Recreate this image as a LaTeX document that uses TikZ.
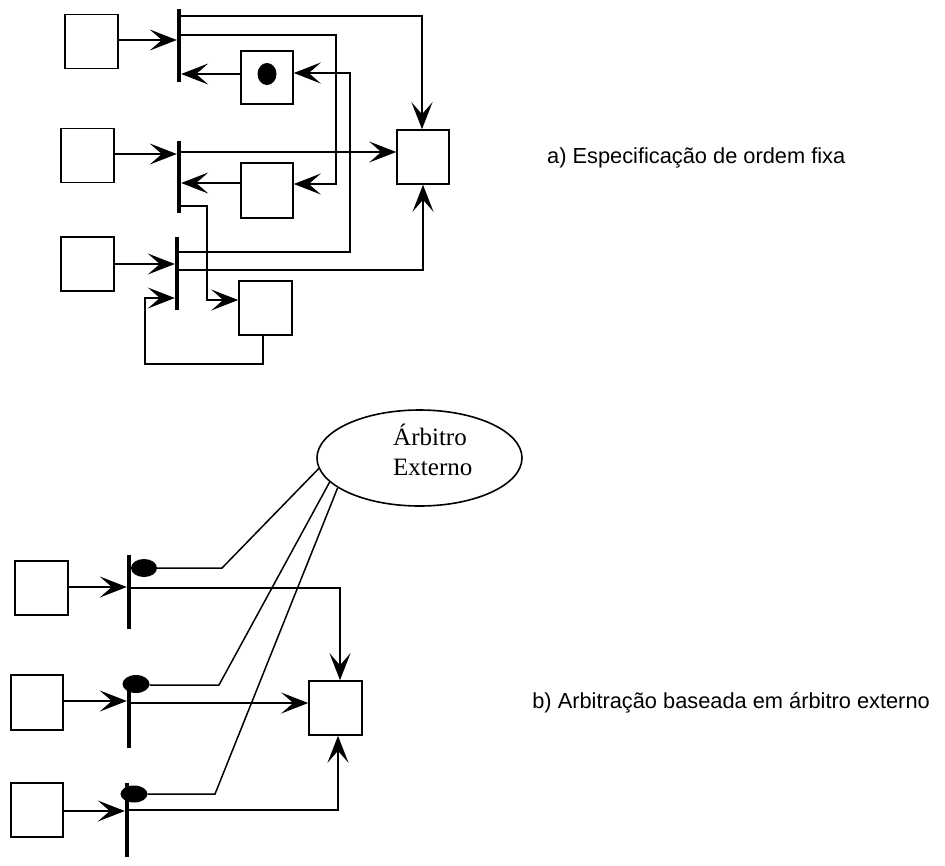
\documentclass[tikz,border=0pt]{standalone}
\usepackage{fontspec}
\setmainfont{Liberation Serif}
\newfontfamily\labelfont{Liberation Sans}
\usetikzlibrary{arrows.meta,shapes.geometric,calc}
\begin{document}
\begin{tikzpicture}[x=1pt,y=-1pt,
  box/.style={draw,line width=1.6pt,inner sep=0pt,minimum width=53pt,minimum height=54pt},
  bar/.style={fill=black,draw=none,inner sep=0pt,minimum width=4pt},
  conn/.style={line width=1.5pt},
  arr/.style={conn,-{Stealth[length=27pt,width=21pt,inset=12pt]}},
  blob/.style={ellipse,fill=black,draw=none,inner sep=0pt},
  caption/.style={font=\labelfont\fontsize{21.8}{26}\selectfont,inner sep=0pt},
  arbtext/.style={font=\fontsize{25}{30}\selectfont,inner sep=0pt}
]
\useasboundingbox (0,0) rectangle (945,865);

% ---------- part a ----------
\node[box] (A1) at (91.5,41.5) {};
\node[box] (A2) at (87.5,155.5) {};
\node[box] (A3) at (87.5,264) {};
\node[box,minimum width=52pt,minimum height=53pt] (B1) at (267,77.5) {};
\node[box,minimum width=52pt,minimum height=55pt] (B2) at (267,190.5) {};
\node[box] (B3) at (265.5,308) {};
\node[box,minimum width=52pt] (C) at (423,157) {};
\node[blob,minimum width=19pt,minimum height=22pt] (dotB1) at (267,74) {};

\node[bar,minimum height=73pt] (b1) at (179,45.5) {};
\node[bar,minimum height=72pt] (b2) at (179,177) {};
\node[bar,minimum height=73pt] (b3) at (177,273.5) {};

\draw[arr] (A1.east |- 0,40) -- (b1.west |- 0,40);
\draw[arr] (b1.east |- 0,16) -| (C.north -| 422,0);
\draw[arr] (b1.west |- 0,35) -- (336,35) |- (B2.east |- 0,184);
\draw[arr] (B1.west |- 0,74) -- (b1.east |- 0,74);
\draw[arr] (b3.east |- 0,252) -- (350,252) |- (B1.east |- 0,73);
\draw[arr] (A2.east |- 0,154) -- (b2.west |- 0,154);
\draw[arr] (b2.east |- 0,152) -- (C.west |- 0,152);
\draw[arr] (B2.west |- 0,183) -- (b2.east |- 0,183);
\draw[arr] (b2.east |- 0,206) -- (207,206) |- (B3.west |- 0,300);
\draw[arr] (A3.east |- 0,264) -- (b3.west |- 0,264);
\draw[arr] (b3.east |- 0,270) -| (C.south);
\draw[arr] (B3.south -| 263,0) -- (263,364) -| (145,298) -- (b3.west |- 0,298);

\node[caption,anchor=base west] (capA) at (547,163) {a) Especificação de ordem fixa};

% ---------- part b ----------
\node[draw,ellipse,line width=1.6pt,inner sep=0pt,minimum width=205pt,minimum height=96pt] (arb) at (419.5,458) {};
\node[arbtext,anchor=base west] (arbt1) at (393,445) {Árbitro};
\node[arbtext,anchor=base west] (arbt2) at (393,475) {Externo};

\node[box] (D1) at (41.5,588) {};
\node[box,minimum width=52pt,minimum height=55pt] (D2) at (37,702.5) {};
\node[box,minimum width=52pt] (D3) at (37,810) {};
\node[box] (E) at (335.5,708) {};

\node[bar,minimum height=74pt] (bd1) at (129,592) {};
\node[bar,minimum height=70pt] (bd2) at (129,713) {};
\node[bar,minimum height=74pt] (bd3) at (127,820) {};

\node[blob,minimum width=26pt,minimum height=18pt] (d1) at (144,568) {};
\node[blob,minimum width=27pt,minimum height=18pt] (d2) at (136,684) {};
\node[blob,minimum width=27pt,minimum height=17pt] (d3) at (134,794) {};

\draw[arr] (D1.east |- 0,587) -- (bd1.west |- 0,587);
\draw[arr] (bd1.east |- 0,588) -| (E.north -| 340,0);
\draw[conn] (d1.east) -- (222,568) -- (arb.186.7);

\draw[arr] (D2.east |- 0,701) -- (bd2.west |- 0,701);
\draw[arr] (bd2.east |- 0,703) -- (E.west |- 0,703);
\draw[conn] (d2.east |- 0,685) -- (219,685) -- (arb.195.3);

\draw[arr] (D3.east |- 0,811) -- (bd3.west |- 0,811);
\draw[arr] (bd3.east |- 0,810) -| (E.south -| 338,0);
\draw[conn] (d3.east) -- (215,794) -- (arb.200.2);

\node[caption,anchor=base east] (capB) at (930,708) {b) Arbitração baseada em árbitro externo};
\end{tikzpicture}
\end{document}
